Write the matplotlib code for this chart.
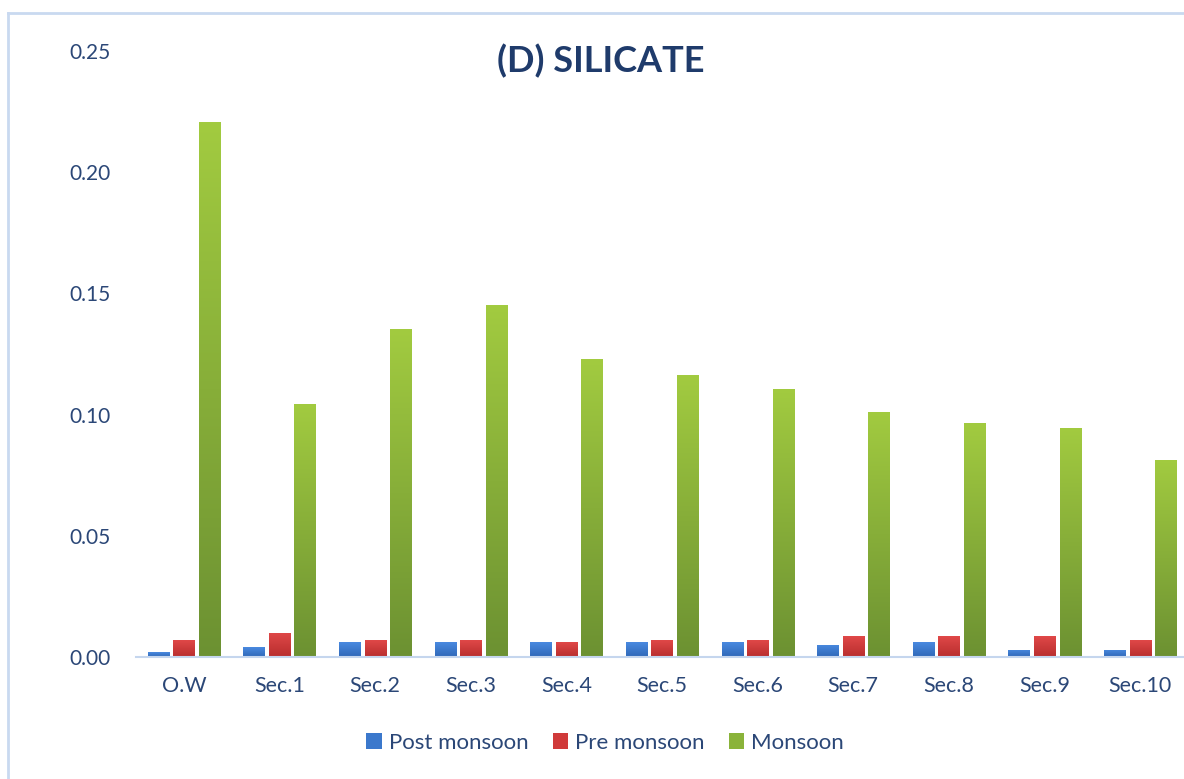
import numpy as np
import matplotlib.pyplot as plt
from matplotlib.colors import LinearSegmentedColormap
from matplotlib.lines import Line2D
from matplotlib.patches import Patch

stations = ['O.W', 'Sec.1', 'Sec.2', 'Sec.3', 'Sec.4', 'Sec.5',
            'Sec.6', 'Sec.7', 'Sec.8', 'Sec.9', 'Sec.10']
post_monsoon = [0.002, 0.004, 0.006, 0.006, 0.006, 0.006, 0.006, 0.005, 0.006, 0.003, 0.003]
pre_monsoon = [0.007, 0.010, 0.007, 0.007, 0.006, 0.007, 0.007, 0.0085, 0.0085, 0.0085, 0.007]
monsoon = [0.2207, 0.1044, 0.1353, 0.1452, 0.1229, 0.1163, 0.1106, 0.1011, 0.0965, 0.0945, 0.0813]
yticks = [0.00, 0.05, 0.10, 0.15, 0.20, 0.25]

plt.rcParams['font.family'] = ['Lato', 'DejaVu Sans']
txt = '#2B4777'

fig = plt.figure(figsize=(11.84, 7.79), dpi=100)
ax = fig.add_axes([136 / 1184, 1 - 657 / 779, 1052 / 1184, (657 - 51) / 779])

x = np.arange(len(stations))
w = 0.22
off = 0.267
series = [
    (post_monsoon, -off, ('#4A8AE0', '#2F68B8'), 'Post monsoon', '#3B78CC'),
    (pre_monsoon, 0, ('#E04848', '#B82E2E'), 'Pre monsoon', '#D03A3A'),
    (monsoon, off, ('#A2CB40', '#6C9132'), 'Monsoon', '#8AB33A'),
]

grad = np.linspace(1, 0, 256).reshape(-1, 1)
for vals, dx, (ctop, cbot), name, c in series:
    cmap = LinearSegmentedColormap.from_list(name, [cbot, ctop])
    bars = ax.bar(x + dx, vals, width=w, color='none', edgecolor='none', zorder=2)
    for b in bars:
        x0, y0 = b.get_x(), b.get_y()
        im = ax.imshow(grad, cmap=cmap, aspect='auto', zorder=2,
                       extent=[x0, x0 + b.get_width(), y0, y0 + b.get_height()],
                       vmin=0, vmax=1)
        im.set_clip_path(b)

ax.set_xlim(-0.5, len(stations) - 0.5)
ax.set_ylim(0, 0.25)
ax.set_yticks(yticks)
ax.set_yticklabels(['%.2f' % v for v in yticks])
ax.set_xticks(x)
ax.set_xticklabels(stations)
ax.tick_params(axis='y', length=0, pad=18, labelsize=15, labelcolor=txt)
ax.tick_params(axis='x', length=0, pad=14, labelsize=15.5, labelcolor=txt)
for s in ['top', 'right', 'left']:
    ax.spines[s].set_visible(False)
ax.spines['bottom'].set_color('#C5D6EE')
ax.spines['bottom'].set_linewidth(1.5)

fig.text(601 / 1184, 1 - 61 / 779, '(D) SILICATE', ha='center', va='center',
         fontsize=26, fontweight='bold', color='#1F3B6B')

handles = [Patch(facecolor=s[4], edgecolor='none') for s in series]
fig.legend(handles, [s[3] for s in series], loc='center',
           bbox_to_anchor=(605 / 1184, 1 - 743 / 779), ncol=3, frameon=False,
           fontsize=16, labelcolor=txt, handlelength=0.7, handleheight=0.7,
           handletextpad=0.3, columnspacing=1.1)

# light blue chart frame
fig.add_artist(Line2D([8 / 1184, 1], [1 - 13 / 779] * 2, color='#C9D9F0', lw=2))
fig.add_artist(Line2D([8 / 1184] * 2, [0, 1 - 13 / 779], color='#C9D9F0', lw=2))

fig.savefig('out.png', dpi=100)
